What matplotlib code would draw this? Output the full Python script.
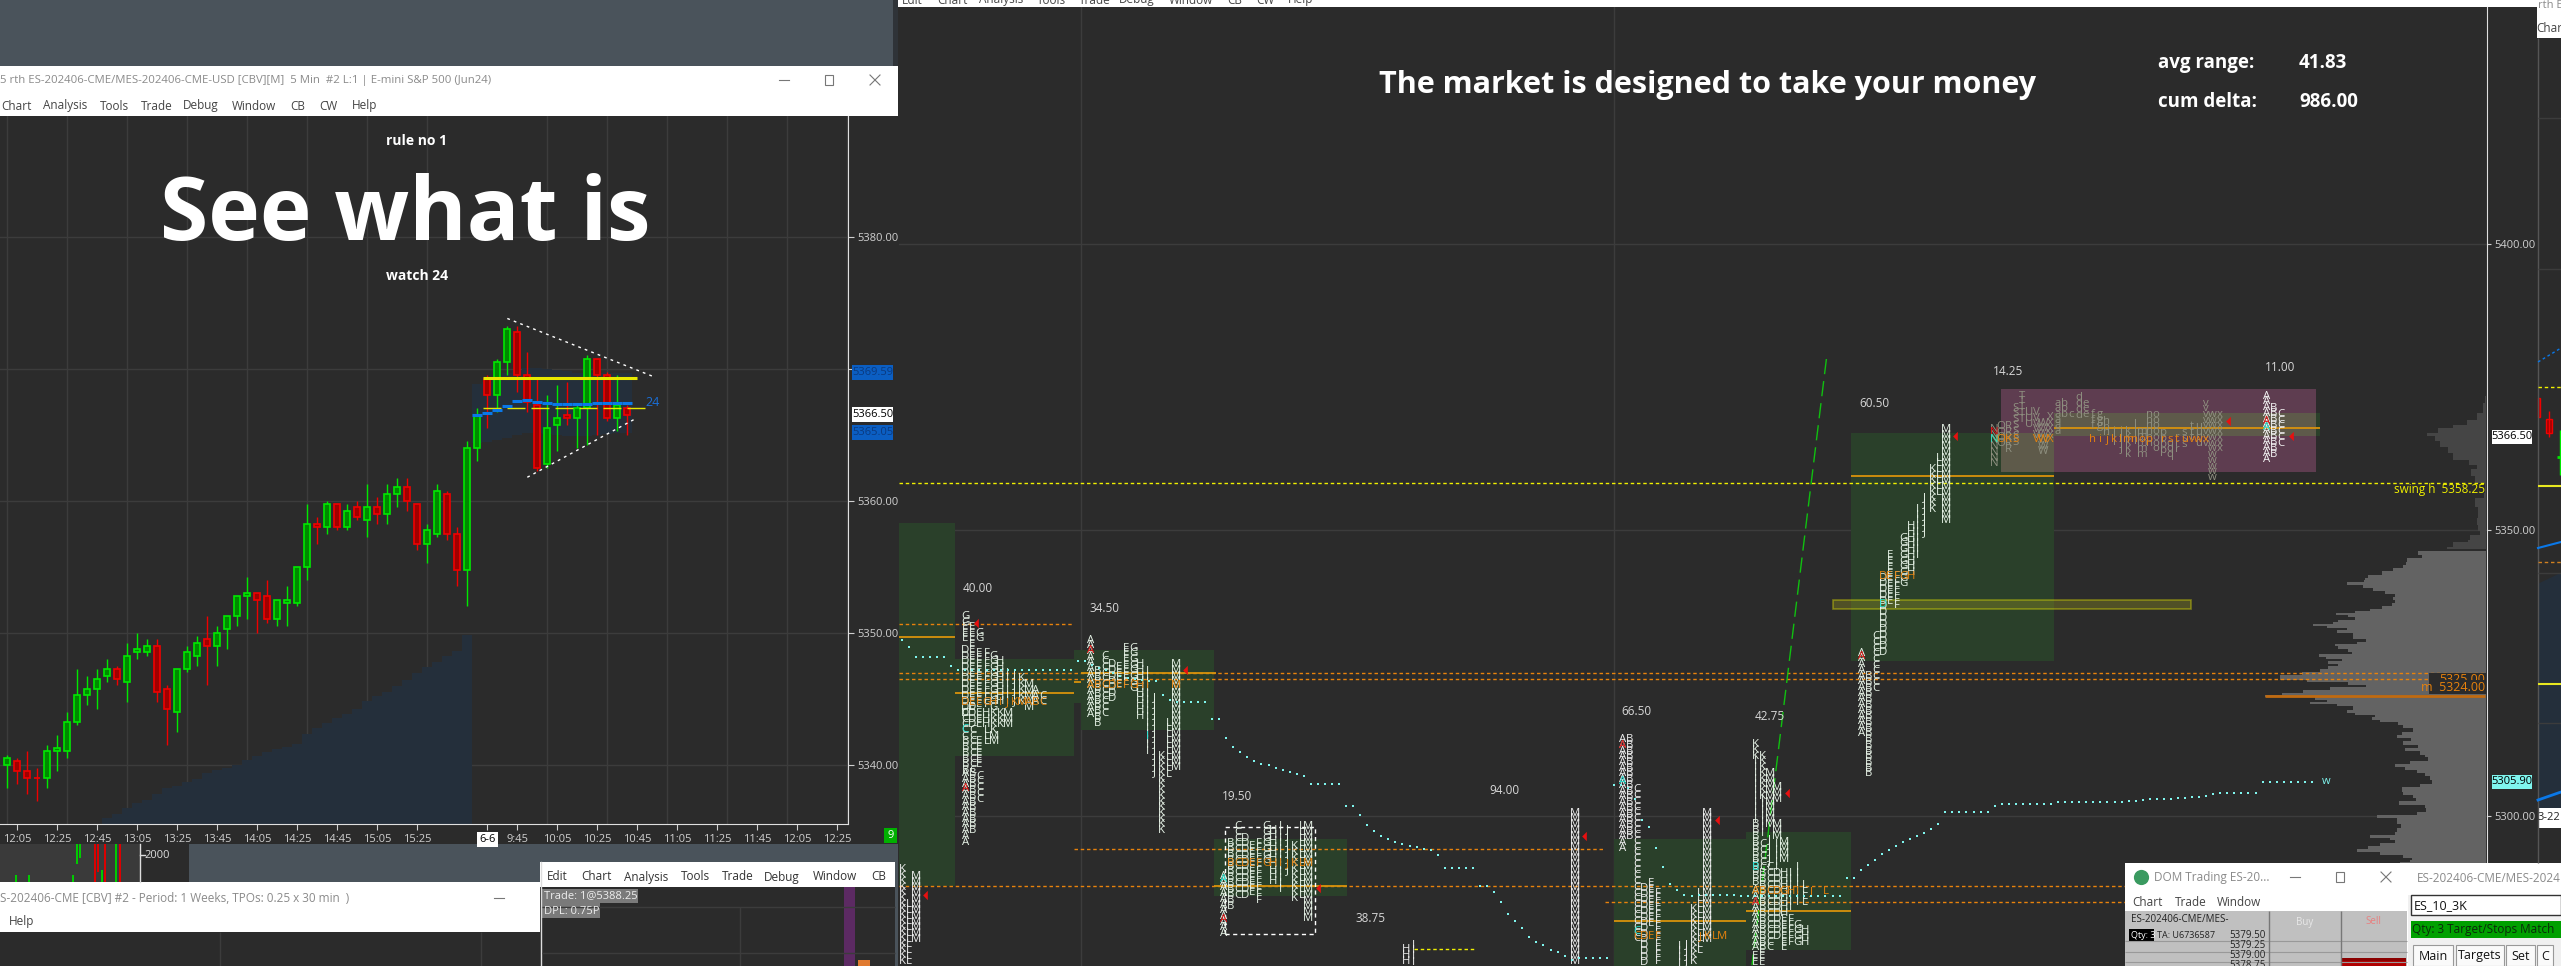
#!/usr/bin/env python
import matplotlib
matplotlib.use("Agg")
import matplotlib.pyplot as plt
import numpy as np
from matplotlib.patches import Rectangle

W, H = 2561, 966
FONT = "Open Sans"
plt.rcParams["font.family"] = [FONT, "DejaVu Sans"]

BG = "#2b2b2b"
GRID = "#3c3c3c"
SLATE = "#4a535b"
TXT = "#d8d8d8"
UP_EDGE, UP_FILL = "#00e800", "#008a00"
DN_EDGE, DN_FILL = "#f00000", "#a00000"
ORANGE = "#e8820c"
POC = "#d8920c"
SWING = "#f0f000"

# 5 min candles of the left chart
c_open = [5340.0, 5340.25, 5339.5, 5339.0, 5339.0, 5341.0, 5341.0, 5343.25, 5345.25, 5345.75, 5346.75,
          5347.25, 5346.25, 5348.5, 5348.5, 5349.0, 5345.75, 5344.0, 5347.25, 5348.25, 5349.5, 5349.0,
          5350.25, 5351.25, 5352.75, 5353.0, 5352.75, 5351.0, 5352.25, 5352.25, 5355.0, 5358.25, 5358.0,
          5359.75, 5358.0, 5359.5, 5358.5, 5359.5, 5359.0, 5360.5, 5361.0, 5359.75, 5356.75, 5357.5,
          5360.5, 5357.5, 5354.75, 5364.0, 5369.25, 5368.0, 5370.5, 5372.75, 5369.5, 5367.25, 5362.75,
          5365.75, 5366.5, 5366.25, 5367.0, 5370.75, 5369.5, 5366.25, 5367.0]
c_close = [5340.5, 5339.5, 5339.0, 5339.0, 5341.0, 5341.25, 5343.25, 5345.25, 5345.75, 5346.5, 5347.25,
           5346.5, 5348.25, 5348.75, 5349.0, 5345.5, 5344.25, 5347.25, 5348.5, 5349.25, 5349.0, 5350.0,
           5351.25, 5352.75, 5353.0, 5352.5, 5351.0, 5352.5, 5352.5, 5355.0, 5358.25, 5358.0, 5359.75,
           5358.0, 5359.25, 5358.75, 5359.5, 5359.0, 5360.5, 5361.0, 5360.0, 5356.75, 5357.75, 5360.75,
           5357.5, 5354.75, 5364.0, 5366.5, 5368.0, 5370.5, 5373.0, 5369.5, 5367.5, 5362.5, 5365.5,
           5366.25, 5366.25, 5367.0, 5370.75, 5369.5, 5366.25, 5367.25, 5366.5]
c_high = [5340.75, 5340.5, 5341.0, 5339.75, 5341.5, 5342.25, 5344.0, 5347.25, 5346.75, 5347.25, 5348.0,
          5347.5, 5349.25, 5350.0, 5349.5, 5349.5, 5346.0, 5347.25, 5349.0, 5349.75, 5351.25, 5350.5,
          5351.25, 5352.75, 5354.25, 5353.0, 5354.0, 5352.5, 5353.5, 5355.0, 5359.75, 5358.75, 5360.0,
          5359.75, 5359.75, 5360.0, 5361.25, 5360.25, 5361.25, 5361.75, 5361.75, 5359.75, 5358.25,
          5361.25, 5360.75, 5358.0, 5364.5, 5367.0, 5369.5, 5370.75, 5373.25, 5373.25, 5371.25, 5369.25,
          5368.0, 5368.75, 5369.0, 5367.25, 5371.0, 5370.75, 5369.75, 5369.5, 5367.25]
c_low = [5338.25, 5338.5, 5337.75, 5337.25, 5338.25, 5339.5, 5340.5, 5343.0, 5344.5, 5344.25, 5346.25,
         5346.0, 5344.75, 5348.0, 5348.25, 5344.75, 5341.5, 5342.5, 5347.0, 5347.5, 5346.0, 5347.5,
         5348.75, 5350.5, 5351.0, 5350.0, 5350.75, 5350.5, 5350.5, 5352.0, 5354.0, 5356.75, 5357.5,
         5357.75, 5357.75, 5358.5, 5357.25, 5358.25, 5358.25, 5359.5, 5359.25, 5356.25, 5355.25,
         5357.25, 5357.0, 5353.5, 5352.0, 5363.0, 5365.5, 5366.75, 5369.5, 5368.25, 5366.75, 5362.25,
         5362.5, 5363.75, 5365.75, 5364.0, 5364.25, 5365.0, 5366.0, 5365.25, 5365.0]

# cumulative area under the candles, by candle number 10..46
area_idx = list(range(10, 47))
area_top = [5335.93, 5336.26, 5336.69, 5337.07, 5337.32, 5337.78, 5338.21, 5338.41, 5338.71, 5338.91, 5339.34,
            5339.6, 5339.72, 5339.97, 5340.35, 5340.68, 5340.98, 5341.16, 5341.36, 5341.54, 5342.32, 5342.75,
            5343.13, 5343.51, 5343.84, 5344.19, 5344.82, 5345.2, 5345.53, 5345.96, 5346.41, 5346.92, 5347.37,
            5347.8, 5348.23, 5348.61, 5349.82]
band_idx = list(range(47, 63))
band_top = [5368.84, 5369.01, 5369.34, 5369.65, 5369.9, 5370.03, 5370.08, 5369.95, 5369.9, 5369.82,
            5369.65, 5369.65, 5369.65, 5369.65, 5369.65, 5369.65]
band_bot = [5364.39, 5364.47, 5364.6, 5364.72, 5364.97, 5365.1, 5365.1, 5365.03, 5364.95, 5364.92,
            5364.92, 5364.92, 5364.97, 5365.05, 5365.1, 5365.1]
blue_steps = [5366.5, 5366.67, 5366.87, 5367.18, 5367.55, 5367.63, 5367.48, 5367.4, 5367.33, 5367.33,
              5367.33, 5367.33, 5367.4, 5367.4, 5367.4, 5367.4]
upper_trend_x, upper_trend_y = [50.0, 64.6], [5373.8, 5369.4]
lower_trend_x, lower_trend_y = [52.0, 62.9], [5361.77, 5366.24]

left_yticks = [5340, 5350, 5360, 5370, 5380]
left_ticklabels = ["5340.00", "5350.00", "5360.00", "", "5380.00"]
time_idx = [1, 5, 9, 13, 17, 21, 25, 29, 33, 37, 41, 48, 51, 55, 59, 63, 67, 71, 75, 79, 83]
time_labels = ["12:05", "12:25", "12:45", "13:05", "13:25", "13:45", "14:05", "14:25", "14:45", "15:05", "15:25",
               "6-6", "9:45", "10:05", "10:25", "10:45", "11:05", "11:25", "11:45", "12:05", "12:25"]

# right chart: range labels
range_text = ["40.00", "34.50", "19.50", "38.75", "94.00", "66.50", "42.75", "60.50", "14.25", "11.00"]
range_x = [978, 1105, 1237, 1370, 1504, 1636, 1770, 1874, 2008, 2280]
range_y = [5339.75, 5336.25, 5303.4, 5282.1, 5304.5, 5318.25, 5317.4, 5372.1, 5377.65, 5378.35]

# value area boxes: x0, x1, low, high
green_boxes = [(899, 955, 5287.9, 5351.3), (955, 1074, 5310.6, 5327.5), (1074, 1081, 5319.8, 5329.1),
               (1081, 1214, 5315.0, 5329.1), (1214, 1347, 5286.1, 5296.1), (1614, 1746, 5270.0, 5296.1),
               (1746, 1851, 5276.6, 5297.3), (1851, 2054, 5327.1, 5367.0), (2316, 2320, 5366.4, 5370.4)]
maroon_box = (2001, 2316, 5360.1, 5374.6)
overlap_boxes = [(2001, 2054, 5360.1, 5367.0), (2054, 2316, 5366.4, 5370.4)]
poc_lines = [(899, 955, 5331.3), (955, 1074, 5321.5), (1074, 1081, 5323.4), (1081, 1216, 5325.0), (1214, 1347, 5287.9),
             (1614, 1746, 5281.7), (1746, 1851, 5283.4), (1851, 2054, 5359.4), (2054, 2320, 5367.85)]
naked_levels = [(899, 1074, 5333.6), (899, 2487, 5325.0), (899, 2487, 5324.0), (1074, 1605, 5294.25),
                (899, 2125, 5287.9), (1605, 2125, 5285.0)]

# vwap dots, one per slot
vwap = ([5330.72, 5329.5] + [5327.75] * 5 + [5326.35] + [5325.6] * 17 + [5327.17] * 2
        + [5326.5, 5326.0, 5325.5, 5325.0, 5324.5, 5324.2, 5324.0, 5323.8, 5323.7, 5323.56, 5321.17, 5320.24]
        + [5320.06] * 5 + [5317.04] * 2
        + [5313.6, 5312.03, 5311.21, 5310.45, 5309.7, 5309.17, 5309.0, 5308.42, 5308.12, 5307.72, 5307.43, 5307.13]
        + [5305.68] * 5 + [5301.72] * 2
        + [5300.15, 5298.4, 5297.52, 5296.65, 5296.07, 5295.49, 5295.14, 5294.85, 5294.56, 5294.32, 5294.15, 5293.33]
        + [5291.0] * 5 + [5287.86] * 2
        + [5286.81, 5285.06, 5283.02, 5281.68, 5280.52, 5279.0, 5278.13, 5277.55, 5276.67, 5276.21, 5275.63, 5274.93]
        + [5275.28] * 5 + [5305.56] * 2
        + [5305.0, 5303.0, 5299.39, 5298.22, 5294.38, 5291.18, 5288.2, 5287.16, 5286.28, 5286.11]
        + [5286.28] * 6 + [5286.0] * 15 + [5289.31] * 2
        + [5290.54, 5291.41, 5292.4, 5293.45, 5294.15, 5294.73, 5295.6, 5296.07, 5296.48, 5297.06, 5297.76, 5298.63]
        + [5300.79] * 7 + [5301.72] + [5302.13] * 3 + [5302.24] * 5 + [5302.42] * 7 + [5302.59] * 3 + [5302.71] * 2
        + [5302.83] + [5302.94] * 2 + [5303.06] * 2 + [5303.17] * 2
        + [5303.29, 5303.35, 5303.47, 5303.87] + [5304.16] * 6 + [5306.03] * 8)

# TPO columns per session: column number, letter, top price, bottom price
tpo_a = [(0, "K", 5290.65, 5274), (1, "L", 5284.55, 5274), (2, "M", 5289.5, 5278.4)]
tpo_b = [(0, "G", 5334.9, 5333.9), (0, "E", 5333, 5330.5), (0, "D", 5329, 5318), (0, "C", 5318, 5314),
         (0, "B", 5313, 5308), (0, "A", 5307.5, 5294.7),
         (1, "E", 5333, 5330), (1, "E", 5329, 5319), (1, "D", 5319, 5316), (1, "C", 5315, 5308), (1, "B", 5307.5, 5297.5),
         (2, "G", 5332, 5331), (2, "E", 5328.5, 5319), (2, "E", 5318, 5316), (2, "E", 5313, 5309), (2, "C", 5307, 5302.5),
         (3, "F", 5328.5, 5319), (3, "H", 5318, 5316), (3, "L", 5315, 5312.5),
         (4, "G", 5328, 5319), (4, "K", 5318, 5315), (4, "M", 5314, 5313),
         (5, "H", 5327, 5320), (5, "K", 5318, 5316), (6, "I", 5325, 5320), (6, "M", 5318, 5316),
         (7, "J", 5325, 5320), (8, "K", 5324, 5320), (9, "M", 5323, 5319), (10, "A", 5322, 5320), (11, "C", 5321, 5320)]
tpo_c = [(0, "A", 5330.8, 5317), (1, "B", 5325.3, 5315.4), (2, "C", 5328, 5318), (3, "D", 5326.5, 5319.8),
         (4, "E", 5326, 5322.7), (5, "E", 5329.4, 5322.7), (6, "G", 5329.4, 5321.5), (7, "H", 5326.5, 5317.5),
         (8, "I", 5325.3, 5310.5), (9, "J", 5320.7, 5307.5), (10, "K", 5310.5, 5296.8), (11, "L", 5316.3, 5306.7),
         (12, "M", 5326.5, 5308.4)]
tpo_d = [(0, "A", 5289.5, 5278.7), (1, "B", 5295.3, 5283.4), (2, "C", 5298.2, 5286), (3, "D", 5296.2, 5285.7),
         (4, "E", 5294.7, 5286), (5, "F", 5295.3, 5284.5), (6, "G", 5298.2, 5292.1), (7, "H", 5297.6, 5288.6),
         (8, "I", 5298.2, 5286.3), (9, "J", 5297.6, 5290.4), (10, "K", 5294.7, 5285.4), (11, "L", 5298.2, 5285.4),
         (12, "M", 5298.2, 5281.6)]
tpo_e = [(0, "H", 5276.7, 5274), (1, "I", 5277.5, 5274)]
tpo_m = [(0, "M", 5300.55, 5274)]
tpo_f = [(0, "A", 5313.4, 5294.4), (1, "B", 5313.4, 5295.6), (2, "C", 5304.6, 5277.8), (3, "D", 5287.4, 5274.3),
         (4, "E", 5288.3, 5280.5), (5, "F", 5286.6, 5274.3), (8, "I", 5277.3, 5274.3), (9, "J", 5277.6, 5274.3),
         (10, "K", 5283.7, 5274.3), (11, "L", 5286.6, 5276.4), (12, "M", 5300.55, 5278.4)]
tpo_g = [(0, "K", 5312.5, 5310.5), (0, "I", 5309.5, 5299), (0, "B", 5298.5, 5288), (0, "A", 5287, 5276.5), (0, "E", 5275.5, 5274.5),
         (1, "K", 5310.5, 5303.5), (1, "I", 5303, 5297), (1, "C", 5295, 5291), (1, "B", 5290, 5286), (1, "B", 5285, 5277), (1, "E", 5276.5, 5274.5),
         (2, "M", 5307.5, 5298.5), (2, "J", 5296, 5292), (2, "C", 5291, 5287), (2, "C", 5286, 5277),
         (3, "M", 5305, 5302.5), (3, "M", 5298.5, 5296.5), (3, "I", 5295, 5291), (3, "D", 5290, 5279),
         (4, "M", 5295.5, 5292), (4, "H", 5290, 5283), (4, "E", 5282, 5277),
         (5, "I", 5290, 5284), (5, "F", 5282, 5277.5), (6, "I", 5291, 5285), (6, "G", 5281, 5277.5),
         (7, "L", 5288, 5285), (7, "H", 5280, 5277.5)]
tpo_h = [(0, "A", 5328.5, 5314.4), (1, "B", 5324.4, 5306.7), (2, "C", 5331.4, 5321.5), (3, "D", 5341.6, 5328.5),
         (4, "E", 5345.5, 5336.7), (5, "F", 5341.9, 5336.4), (6, "G", 5348.6, 5340.4), (7, "H", 5350.6, 5341.9),
         (8, "I", 5353.6, 5345.4), (9, "J", 5355.6, 5349.5), (10, "K", 5360.6, 5353.6), (11, "L", 5362.6, 5355.9),
         (12, "M", 5367.6, 5351.3)]
tpo_i = [(0, "N", 5367.6, 5361.4), (1, "O", 5368.1, 5364.4), (2, "R", 5368.1, 5363.5), (3, "S", 5371.3, 5364.6),
         (4, "T", 5373.4, 5368.7), (5, "U", 5370.5, 5368.4), (6, "V", 5370.5, 5365.8), (7, "W", 5368.7, 5363.5),
         (8, "X", 5369.6, 5365.8), (9, "a", 5372.2, 5366.4), (10, "b", 5372.2, 5369.3), (11, "c", 5370.2, 5369.3),
         (12, "d", 5373.1, 5369.3), (13, "e", 5372.2, 5369.3), (14, "f", 5370.2, 5367.6), (15, "g", 5370.2, 5367.6),
         (16, "h", 5369.0, 5366.4), (17, "i", 5367.3, 5364.6), (18, "j", 5367.3, 5363.5), (19, "k", 5367.3, 5362.6),
         (20, "l", 5368.4, 5364.6), (21, "m", 5367.3, 5362.6), (22, "n", 5370.2, 5364.6), (23, "o", 5370.2, 5363.8),
         (24, "p", 5367.0, 5363.8), (25, "q", 5365.2, 5362.6), (26, "r", 5366.1, 5363.8), (27, "s", 5367.0, 5364.6),
         (28, "t", 5368.1, 5365.8), (29, "u", 5368.1, 5364.6), (30, "v", 5372.2, 5364.6), (31, "w", 5370.2, 5358.8),
         (32, "x", 5370.2, 5363.8)]
tpo_j = [(0, "A", 5373.4, 5361.7), (1, "B", 5371.3, 5362.6), (2, "C", 5370.2, 5364.6)]

# orange POC rows: session start, price, letters (space = empty column)
poc_rows = [(965.3, 5319.9, "DEEGHIJKMABC"), (1091, 5322.8, "ABCDEFGHI   M"), (1230.9, 5291.8, "BCDEFGHIJKLM"),
            (1636.9, 5279.0, "CDEF     JKLM"), (1755.4, 5286.9, "ABCDGHI J L"), (1882.5, 5341.9, "DEFGH"),
            (1994, 5365.9, "NOKS  VWX     hijklmnop rstuvwx")]

# single letters printed in red (open) or cyan (vwap touch)
red_x = [965.3, 1091, 1223.9, 1622.8, 1755.4, 1861.4, 1994, 2266.8]
red_y = [5304.8, 5328.9, 5281.9, 5312.3, 5285.0, 5327.9, 5367.0, 5369.0]
red_s = ["A", "A", "A", "A", "A", "A", "N", "A"]
cyan_x = [965.3, 1147.4, 1223.9, 1622.8, 1636.9, 1755.4, 1882.5, 1994, 2266.8]
cyan_y = [5315.1, 5314.0, 5288.9, 5306.0, 5279.9, 5291.0, 5337.0, 5365.9, 5368.0]
cyan_s = ["C", "I", "A", "A", "C", "B", "D", "N", "A"]

arrow_x = [925, 976, 1185, 1318, 1584, 1717, 1787, 1955, 2228, 2291]
arrow_y = [5286.2, 5333.8, 5325.6, 5287.4, 5296.6, 5299.3, 5304.0, 5366.5, 5369.1, 5366.5]

# volume profile on the right edge of the main chart
vp_price = [5373.5, 5372.2, 5370.5, 5369.3, 5368.4, 5367.9, 5367.0, 5366.4, 5365.5, 5364.6, 5363.5, 5362.3, 5361.4,
            5360.6, 5359.4, 5358.2, 5356.5, 5355.6, 5354.1, 5353.0, 5352.1, 5350.9, 5349.8, 5349.2, 5348.3, 5348.0,
            5347.1, 5346.7, 5346.3, 5345.7, 5345.1, 5344.5, 5343.9, 5343.4, 5342.8, 5342.2, 5341.6, 5341.3, 5340.9,
            5340.4, 5339.9, 5339.3, 5338.9, 5338.3, 5337.8, 5337.2, 5336.7, 5336.2, 5335.8, 5335.6, 5335.2, 5334.8,
            5334.3, 5333.9, 5333.6, 5333.3, 5332.9, 5332.6, 5332.0, 5331.4, 5331.0, 5330.5, 5330.1, 5329.7, 5329.2,
            5328.7, 5328.4, 5327.9, 5327.5, 5327.1, 5326.6, 5326.2, 5325.7, 5325.3, 5324.7, 5324.1, 5323.9,
            5323.4, 5323.0, 5322.6, 5322.1, 5321.6, 5321.2, 5320.8, 5320.3, 5320.0, 5319.6, 5319.2, 5318.6, 5318.0,
            5317.7, 5317.3, 5316.9, 5316.4, 5316.0, 5315.4, 5314.8, 5314.2, 5313.6, 5313.1, 5312.5, 5311.9, 5311.4,
            5310.7, 5310.3, 5309.7, 5309.2, 5308.6, 5308.1, 5307.5, 5307.0, 5306.4, 5305.7, 5305.1, 5304.3, 5303.7,
            5303.2, 5302.6, 5302.0, 5301.4, 5300.8, 5300.2, 5299.7, 5299.1, 5298.6, 5297.9, 5297.3, 5296.8, 5296.3,
            5295.8, 5295.3, 5294.8, 5294.3, 5293.8, 5293.3, 5292.8, 5292.4, 5292.0, 5285.0]
vp_volume = [1, 3.5, 9, 19, 33, 48, 59, 51, 46, 38, 33, 17, 9,
             15, 11, 1, 2, 11, 7.7, 7.7, 9.3, 7.7, 6, 16, 17.7, 32.7,
             39.3, 61, 67.7, 64, 79.3, 80.3, 82.7, 92.7, 104.3, 117.7, 121, 122, 139.3,
             122.7, 112.7, 101, 91, 92.7, 91, 94.3, 104.3, 116, 131, 150, 137.7, 131,
             147.7, 152.7, 172.7, 159.3, 139.3, 149.3, 132.7, 132.7, 120, 129.3, 151, 147.7, 137.7,
             134.3, 166.7, 160, 144.3, 157.7, 147.7, 157.7, 166, 184.3, 206, 206, 179.3,
             137.7, 120, 156, 182.7, 204.3, 221, 171, 159.3, 176, 149.3, 132.7, 139.3, 131,
             111, 114.3, 106, 87.7, 82.7, 73.3, 84.3, 89.3, 75.3, 83.3, 68.3, 81, 66,
             61, 58.3, 76, 91, 81, 69.3, 61, 56, 54.3, 66, 84.3, 82.7, 72.7,
             70, 86.7, 61, 60, 69.3, 109.3, 89.3, 89.3, 85.3, 89.3, 91, 116, 96,
             91, 106, 117.7, 129.3, 106, 82.7, 74.3, 76, 86, 86]


def px_axes(x0, y0, x1, y1, zorder):
    return fig.add_axes([x0 / W, 1 - y1 / H, (x1 - x0) / W, (y1 - y0) / H], zorder=zorder)


def box(ax, x0, y0, x1, y1, color, **kw):
    ax.add_patch(Rectangle((x0, y0), x1 - x0, y1 - y0, facecolor=color, edgecolor=kw.pop("edgecolor", "none"), **kw))


def label(ax, x, y, s, size=8, color=TXT, ha="left", weight="normal", **kw):
    return ax.text(x, y, s, fontsize=size, color=color, ha=ha, va="center", fontweight=weight, **kw)


def win_buttons(ax, x_min, x_max, x_close, y, color="#777777"):
    ax.plot([x_min - 5, x_min + 5], [y, y], color=color, lw=0.8)
    box(ax, x_max - 4, y - 5, x_max + 4, y + 5, "none", edgecolor=color, linewidth=0.8)
    ax.plot([x_close - 5, x_close + 5], [y - 5, y + 5], color=color, lw=0.8)
    ax.plot([x_close - 5, x_close + 5], [y + 5, y - 5], color=color, lw=0.8)


def draw_tpo(ax, x0, columns, color, size=8.2, z=5, step=7.05):
    for col, letter, top, bottom in columns:
        for p in np.arange(top, bottom - 0.01, -1.0):
            ax.text(x0 + col * step, p, letter, fontsize=size, color=color, ha="center", va="center", zorder=z)


fig = plt.figure(figsize=(W / 100, H / 100), dpi=100, facecolor=SLATE)

# window chrome behind the charts
back = px_axes(0, 0, W, H, 0)
back.set_xlim(0, W)
back.set_ylim(H, 0)
back.axis("off")
box(back, 0, 0, 898, 66, SLATE)
box(back, 0, 66, 898, 116, "white")
box(back, 0, 116, 898, 844, BG)
box(back, 898, 0, 2537, H, BG)
box(back, 898, 0, 2537, 7, "white")
box(back, 893, 0, 898, 66, "#2f3338")
box(back, 0, 844, 140, 882, "#3a3a3a")
box(back, 140, 844, 189, 882, BG)
box(back, 189, 844, 540, 882, SLATE)
box(back, 0, 882, 540, 932, "white")
box(back, 0, 932, 540, H, BG)
box(back, 540, 862, 895, 887, "white")
box(back, 540, 887, 895, H, BG)
box(back, 2537, 0, W, H, BG)
box(back, 2537, 0, W, 38, "white")

label(back, 0, 81, "5 rth ES-202406-CME/MES-202406-CME-USD [CBV][M]  5 Min  #2 L:1 | E-mini S&P 500 (Jun24)", size=8.2, color="#8a8a8a")
for x, s in zip([1, 43, 100, 141, 183, 232, 290, 319, 352], ["Chart", "Analysis", "Tools", "Trade", "Debug", "Window", "CB", "CW", "Help"]):
    label(back, x, 106, s, size=8.5, color="#444444")
win_buttons(back, 784, 829, 875, 80)
for x, s in zip([902, 937, 979, 1037, 1079, 1119, 1169, 1227, 1256, 1288], ["Edit", "Chart", "Analysis", "Tools", "Trade", "Debug", "Window", "CB", "CW", "Help"]):
    label(back, x, 0, s, size=8.5, color="#444444")

label(back, 0, 898, "S-202406-CME [CBV] #2 - Period: 1 Weeks, TPOs: 0.25 x 30 min  )", size=8.5, color="#8a8a8a")
label(back, 9, 922, "Help", size=8.5, color="#444444")
back.plot([494, 504], [898, 898], color="#777777", lw=0.8)
back.plot([140, 140], [844, 882], color="#dddddd", lw=1)
back.plot([140, 145], [855, 855], color="#dddddd", lw=1)
label(back, 144, 855, "2000", size=8, color="#dddddd")
back.vlines([220, 481], 932, H, color=GRID, lw=1)
back.plot([541, 541], [862, H], color="#dddddd", lw=1)
back.hlines([907, 953], 542, 895, color=GRID, lw=1)
back.vlines([740], 907, H, color=GRID, lw=1)
for x, s in zip([547, 581, 624, 681, 722, 764, 813, 871], ["Edit", "Chart", "Analysis", "Tools", "Trade", "Debug", "Window", "CB"]):
    label(back, x, 877, s, size=8.5, color="#333333")
box(back, 844, 887, 855, H, "#5c2a63")
box(back, 858, 960, 870, H, "#e07a30")
box(back, 542, 889, 638, 903, "#7a7a7a")
box(back, 542, 903, 600, 918, "#7a7a7a")
label(back, 544, 896, "Trade: 1@5388.25", size=8, color="#eeeeee")
label(back, 544, 911, "DPL: 0.75P", size=8, color="#eeeeee")

# the price strip cut off under the left chart
strip_x = [16, 29, 73, 77, 80, 95, 98, 102, 105, 116, 120]
strip_y = [875, 875, 875, 844, 844, 844, 844, 870, 844, 844, 844]
strip_b = [882, 882, 882, 864, 858, 882, 872, 882, 882, 882, 882]
strip_c = ["#00d000", "#00d000", "#00d000", "#00d000", "#00d000", "#e00000", "#e00000", "#00d000", "#e00000", "#00d000", "#e00000"]
back.vlines(strip_x, strip_y, strip_b, colors=strip_c, lw=1.4)

# LEFT CHART
ax = px_axes(0, 116, 848, 824, 1)
ax.patch.set_alpha(0)
idx = np.arange(len(c_open))
ax.set_xlim(-0.73, 84.07)
ax.set_ylim(5335.5, 5389.14)
for s in ("left", "top"):
    ax.spines[s].set_visible(False)
for s in ("right", "bottom"):
    ax.spines[s].set_color("#e0e0e0")
ax.yaxis.tick_right()
ax.set_yticks(left_yticks)
ax.set_yticklabels(left_ticklabels)
ax.set_xticks(time_idx)
ax.set_xticklabels(time_labels)
ax.set_xticks(np.arange(0, 85, 6), minor=True)
ax.tick_params(axis="both", which="major", colors="#d0d0d0", labelsize=8, length=4, width=0.8, pad=3)
ax.tick_params(axis="x", which="minor", length=0)
ax.grid(True, axis="y", which="major", color=GRID, lw=1)
ax.grid(True, axis="x", which="minor", color=GRID, lw=1)
ax.set_axisbelow(True)
for t, s in zip(ax.get_xticklabels(), time_labels):
    if s == "6-6":
        t.set_bbox(dict(facecolor="white", edgecolor="none", pad=1.5))
        t.set_color("black")

area_edges = np.array(area_idx + [area_idx[-1] + 1]) - 0.5
ax.stairs(area_top, area_edges, baseline=5335.5, fill=True, color="#242f3b", zorder=1)
band_edges = np.array(band_idx + [band_idx[-1] + 1]) - 0.5
ax.stairs(band_top, band_edges, baseline=band_bot, fill=True, color="#242f3b", zorder=1)

c_open_a, c_close_a = np.array(c_open), np.array(c_close)
up = c_close_a >= c_open_a
# the doji at candle 3 is a red one
up[3] = False
ax.vlines(idx[up], np.array(c_low)[up], np.array(c_high)[up], color=UP_EDGE, lw=1, zorder=2)
ax.vlines(idx[~up], np.array(c_low)[~up], np.array(c_high)[~up], color=DN_EDGE, lw=1, zorder=2)
ax.bar(idx[up], (c_close_a - c_open_a)[up], bottom=c_open_a[up], width=0.62, color=UP_FILL, edgecolor=UP_EDGE, linewidth=1.2, zorder=3)
ax.bar(idx[~up], (c_close_a - c_open_a)[~up], bottom=c_open_a[~up], width=0.62, color=DN_FILL, edgecolor=DN_EDGE, linewidth=1.2, zorder=3)

ax.hlines(5369.3, 47.6, 63, color="#e8e800", lw=2.2, zorder=4)
for x0 in (47.6, 50.0, 52.4, 54.8, 57.2, 59.6, 62.0):
    ax.hlines(5367.0, x0, x0 + 1.8, color="#e8e800", lw=1, zorder=4)
ax.hlines(blue_steps, np.array(band_idx) - 0.5, np.array(band_idx) + 0.5, color="#0a78e8", lw=2.2, zorder=5)
ax.plot(upper_trend_x, upper_trend_y, color="white", lw=1, ls=(0, (2, 3)), zorder=5)
ax.plot(lower_trend_x, lower_trend_y, color="white", lw=1, ls=(0, (2, 3)), zorder=5)
ax.text(63.8, 5367.4, "24", color="#1a6fd8", fontsize=9, va="center")
ax.text(416, 141, "rule no 1", transform=back.transData, color="white", fontsize=10, fontweight="bold", ha="center", va="center", zorder=6)
ax.text(405, 217, "See what is", transform=back.transData, color="white", fontsize=63, fontweight="bold", ha="center", va="center", zorder=6)
ax.text(417, 276, "watch 24", transform=back.transData, color="white", fontsize=10, fontweight="bold", ha="center", va="center", zorder=6)

# price flags of the left chart
for y0, y1, s, fc, tc in [(365, 380, "5369.59", "#0b5ec2", "#0a3a80"), (407, 422, "5366.50", "white", "black"), (425, 440, "5365.05", "#0b5ec2", "#0a3a80")]:
    box(ax, 852, y0, 893, y1, fc, transform=back.transData, clip_on=False, zorder=8)
    ax.text(872.5, (y0 + y1) / 2, s, transform=back.transData, color=tc, fontsize=8, ha="center", va="center", clip_on=False, zorder=9)
box(ax, 884, 828, 897, 843, "#00b000", transform=back.transData, clip_on=False, zorder=8)
ax.text(890.5, 835.5, "9", transform=back.transData, color="white", fontsize=8, ha="center", va="center", clip_on=False, zorder=9)

# MAIN CHART
m = px_axes(899, 7, 2487, H, 2)
m.patch.set_alpha(0)
m.set_xlim(899, 2487)
m.set_ylim(5273.85, 5441.4)
for s in ("left", "top", "bottom"):
    m.spines[s].set_visible(False)
m.spines["right"].set_color("#e0e0e0")
m.yaxis.tick_right()
m.set_yticks([5300, 5350, 5400])
m.set_yticklabels(["5300.00", "5350.00", "5400.00"])
m.set_xticks([1081, 1614])
m.tick_params(axis="y", colors="#d0d0d0", labelsize=8, length=3, width=0.8, pad=2)
m.tick_params(axis="x", length=0, labelbottom=False)
m.grid(True, color=GRID, lw=1)
m.set_axisbelow(True)

for x0, x1, lo, hi in green_boxes:
    box(m, x0, lo, x1, hi, "#2a402a", zorder=1)
box(m, maroon_box[0], maroon_box[2], maroon_box[1], maroon_box[3], "#5e3d50", zorder=1.1)
for x0, x1, lo, hi in overlap_boxes:
    box(m, x0, lo, x1, hi, "#5e5a4a", zorder=1.15)

vp_y = np.array(vp_price)
vp_left = 2486 - np.array(vp_volume)
dark = vp_y >= 5346.7
m.fill_betweenx(vp_y[dark], vp_left[dark], 2486, step="post", color="#454545", lw=0, zorder=1.2)
m.fill_betweenx(vp_y[~dark], vp_left[~dark], 2486, step="post", color="#636363", lw=0, zorder=1.2)

m.hlines(5358.25, 899, 2487, color=SWING, lw=1, ls=(0, (2.5, 2)), zorder=2)
for x0, x1, y in naked_levels:
    m.hlines(y, x0, x1, color=ORANGE, lw=1, ls=(0, (2.5, 2)), zorder=2)
m.hlines(5276.8, 1414, 1476, color=SWING, lw=1, ls=(0, (2.5, 2)), zorder=2)
for x0, x1, y in poc_lines:
    m.hlines(y, x0, x1, color=POC, lw=1.3, zorder=2.5)
m.hlines(5321.0, 2265, 2485, color="#c06a10", lw=2, zorder=2.5)
m.plot([1826.4, 1752], [5379.9, 5274], color="#10c010", lw=1, ls=(0, (11, 5)), zorder=2.5)

box(m, 1833, 5336.2, 2191, 5337.8, "#8a8a20", alpha=0.4, edgecolor="#e8e800", linewidth=1.2, zorder=3)
box(m, 1224.5, 5279.4, 1314.5, 5298.2, "none", edgecolor="white", linewidth=1, ls=(0, (3, 2.5)), zorder=3)

draw_tpo(m, 902, tpo_a, "#f0f0f0")
draw_tpo(m, 965.3, tpo_b, "#e8f4e8")
draw_tpo(m, 1091, tpo_c, "#e8f4e8")
draw_tpo(m, 1223.9, tpo_d, "#e8f4e8")
draw_tpo(m, 1406.5, tpo_e, "#f0f0f0")
draw_tpo(m, 1574.6, tpo_m, "#f0f0f0")
draw_tpo(m, 1622.8, tpo_f, "#f0f0f0")
draw_tpo(m, 1755.4, tpo_g, "#e8f4e8")
draw_tpo(m, 1861.4, tpo_h, "#e8f4e8")
draw_tpo(m, 1994, tpo_i, "#8f9080")
draw_tpo(m, 2266.8, tpo_j, "#f4f4f4")

for x0, y, row in poc_rows:
    for i, ch in enumerate(row):
        if ch != " ":
            m.text(x0 + i * 7.05, y, ch, fontsize=8.2, color=ORANGE, ha="center", va="center", zorder=6)
for x, y, s in zip(red_x, red_y, red_s):
    m.text(x, y, s, fontsize=8.2, color="#e01010", ha="center", va="center", zorder=6)
for x, y, s in zip(cyan_x, cyan_y, cyan_s):
    m.text(x, y, s, fontsize=8.2, color="#20e0d0", ha="center", va="center", zorder=6)

# vwap dots sit on a fixed slot grid
vwap_x = 901.9 + 7.05 * np.arange(len(vwap))
m.scatter(vwap_x, vwap, marker="s", s=2.6, color="#7ff5ee", linewidths=0, zorder=7)
m.text(2326, 5306.0, "w", color="#7ff5ee", fontsize=8, ha="center", va="center", zorder=7)

tri = [(-0.5, 0), (0.5, 1), (0.5, -1)]
m.scatter(arrow_x, arrow_y, marker=tri, s=45, color="#e81010", linewidths=0, zorder=8)
for s, x, y in zip(range_text, range_x, range_y):
    m.text(x, y, s, color=TXT, fontsize=8.5, ha="center", va="center", zorder=8)

m.text(2485, 5350 + (530.3 - 490) / 5.724, "swing h  5358.25", color=SWING, fontsize=8.5, ha="right", va="center", zorder=8)
box(m, 2429, 5321.4, 2486, 5325.0, BG, zorder=8)
m.text(2485, 5323.9, "5325.00", color=ORANGE, fontsize=9, ha="right", va="center", zorder=8.1)
box(m, 2429, 5321.4, 2486, 5323.84, BG, zorder=8.2)
m.text(2485, 5322.5, "m  5324.00", color=ORANGE, fontsize=9, ha="right", va="center", zorder=8.3)

for y, s, fc in [(436.5, "5366.50", "white"), (781.5, "5305.90", "#7ff5ee")]:
    box(back, 2492, y - 7, 2532, y + 7, fc, zorder=3)
    back.text(2512, y, s, color="black", fontsize=8, ha="center", va="center", zorder=4)

label(m, 1708, 5350 + (530.3 - 85) / 5.724, "The market is designed to take your money", size=22, color="white", ha="center", weight="bold", zorder=8)
for y, a, b in [(63, "avg range:", "41.83"), (102, "cum delta:", "986.00")]:
    p = 5350 + (530.3 - y) / 5.724
    label(m, 2158, p, a, size=13.5, color="white", weight="bold", zorder=8)
    label(m, 2299, p, b, size=13.5, color="white", weight="bold", zorder=8)

# windows on top of the main chart
front = px_axes(0, 0, W, H, 5)
front.set_xlim(0, W)
front.set_ylim(H, 0)
front.axis("off")

# third chart cut off at the right edge
front.vlines(2538, 38, 863, color="#555555", lw=1)
front.hlines([118, 269, 573, 723], 2538, W, color=GRID, lw=1)
front.hlines([562], 2538, W, color="#d08020", lw=1, ls=(0, (2.5, 2)))
front.hlines([387], 2538, W, color=SWING, lw=1, ls=(0, (2.5, 2)))
front.hlines([485.7, 684], 2538, W, color="#e8e820", lw=1.5)
front.plot([2538, W], [362, 348], color="#0a78e8", lw=1, ls=(0, (2, 2)))
front.plot([2538, W], [548, 542], color="#0a78e8", lw=1.5)
front.fill_between([2538, W], [583, 572], [808, 808], color="#242f3b", lw=0)
front.plot([2538, W], [800, 792], color="#0a78e8", lw=2)
box(front, 2538, 398, 2540, 417, DN_FILL, edgecolor=DN_EDGE, linewidth=1)
box(front, 2546, 419, 2552, 433, DN_FILL, edgecolor=DN_EDGE, linewidth=1)
front.vlines(2549, 411, 437, color=DN_EDGE, lw=1)
front.hlines(457, 2557, W, color=UP_EDGE, lw=2)
front.vlines(2560, 430, 475, color=UP_EDGE, lw=1)
label(front, 2538, 5, "rth E", size=8, color="#8a8a8a")
label(front, 2536, 29, "Chart", size=8.5, color="#444444")
box(front, 2538, 808, W, 828, "white")
label(front, 2538, 818, "3-22", size=8, color="#222222")

# DOM window
box(front, 2125, 863, 2408, 966, "white")
box(front, 2125, 911, 2407, 966, "#c0c0c0")
front.scatter([2141], [877], s=120, color="#3a9a60", linewidths=0)
label(front, 2154, 878, "DOM Trading ES-20...", size=8.5, color="#8a8a8a")
win_buttons(front, 2295, 2340, 2386, 877)
for x, s in zip([2132, 2175, 2217], ["Chart", "Trade", "Window"]):
    label(front, x, 903, s, size=8.5, color="#444444")
label(front, 2131, 919, "ES-202406-CME/MES-", size=7, color="#222222")
box(front, 2129, 929, 2154, 941, "black")
label(front, 2131, 935, "Qty: 3", size=6.5, color="white")
label(front, 2157, 935, "TA: U6736587", size=6.5, color="#222222")
for y, s in zip([935, 946, 956, 966], ["5379.50", "5379.25", "5379.00", "5378.75"]):
    label(front, 2229, y, s, size=7, color="#222222")
    front.hlines(y + 5.5, 2125, 2407, color="#999999", lw=0.8)
front.vlines([2269, 2341], 911, 966, color="#777777", lw=1)
label(front, 2305, 922, "Buy", size=7, color="#e8e8e8", ha="center")
label(front, 2373, 922, "Sell", size=7, color="#e88080", ha="center")
box(front, 2342, 958, 2406, 966, "#8a0000")
box(front, 2342, 961, 2406, 966, "#b00000")

# order window
box(front, 2408, 863, W, 966, "#f0f0f0")
box(front, 2408, 863, W, 895, "white")
label(front, 2417, 879, "ES-202406-CME/MES-2024", size=8.5, color="#8a8a8a", clip_on=True)
box(front, 2411, 895, W, 915, "white", edgecolor="#333333", linewidth=1)
label(front, 2414, 906, "ES_10_3K", size=9, color="#111111")
box(front, 2411, 921, W, 938, "#00a000")
label(front, 2412, 930, "Qty: 3 Target/Stops Match", size=8.5, color="#0a2a0a", clip_on=True)
for x0, x1, s in [(2413, 2453, "Main"), (2456, 2504, "Targets"), (2506, 2535, "Set"), (2537, 2553, "C")]:
    box(front, x0, 945, x1, 966, "#fafafa", edgecolor="#999999", linewidth=0.8)
    label(front, (x0 + x1) / 2, 956, s, size=9, color="#111111", ha="center")

fig.savefig("out.png", dpi=100, facecolor=fig.get_facecolor())
